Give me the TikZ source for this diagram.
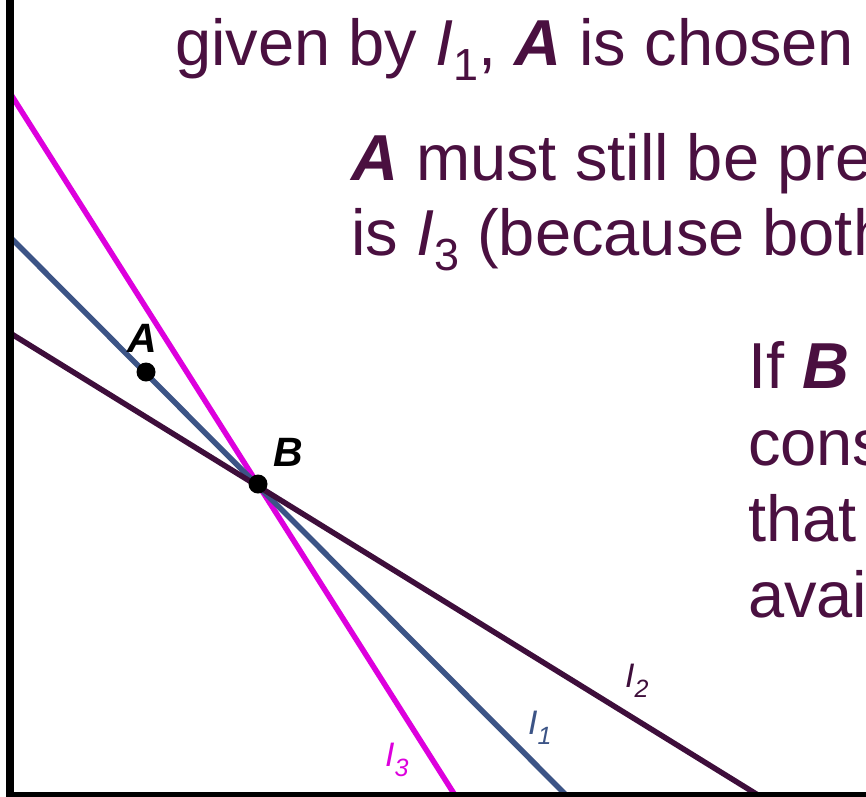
\documentclass[tikz,border=0pt]{standalone}
\usepackage{fontspec}
\setmainfont{Liberation Sans}
\definecolor{txtc}{HTML}{4A1040}
\definecolor{magc}{HTML}{DD00DD}
\definecolor{bluec}{HTML}{3C5486}
\definecolor{purc}{HTML}{3E0E3B}
\newcommand\msub[1]{\raisebox{-0.24em}{\fontsize{45}{45}\selectfont #1}}
\newcommand\lsub[1]{\raisebox{-0.3em}{\fontsize{25}{25}\selectfont\itshape #1}}
\tikzset{
  maintext/.style={anchor=base west, inner sep=0pt, text=txtc, font=\fontsize{65}{78}\selectfont},
  curve/.style={line width=5.5pt},
  axisline/.style={line width=8pt, black},
  dotpt/.style={circle, fill=black, inner sep=0pt, minimum size=19pt},
  ptlabel/.style={anchor=base west, inner sep=0pt, font=\fontsize{41}{41}\selectfont\bfseries\itshape},
  ilabel/.style={anchor=base west, inner sep=0pt, font=\fontsize{34}{34}\selectfont\itshape}
}
\begin{document}
\begin{tikzpicture}[x=1pt,y=-1pt]
\useasboundingbox (0,0) rectangle (866,796);
\clip (0,0) rectangle (866,796);
\fill[white] (0,0) rectangle (866,796);
% texts
\node[maintext] (t1) at (175,65) {given by \textit{I}\msub{1}, \textbf{\textit{A}} is chosen};
\node[maintext] (t2) at (351,180) {\textbf{\textit{A}} must still be preferred};
\node[maintext] (t3) at (351,255) {is \textit{I}\msub{3} (because both};
\node[maintext] (t4) at (748,388) {If \textbf{\textit{B}} is};
\node[maintext] (t5) at (748,465) {consistent};
\node[maintext] (t6) at (748,541) {that};
\node[maintext] (t7) at (748,617) {available};
% curves
\coordinate (i3s) at (10,93);
\coordinate (i3e) at (458,800);
\coordinate (i1s) at (10,237);
\coordinate (i1e) at (571,800);
\coordinate (i2s) at (10,333);
\coordinate (i2e) at (766,800);
\draw[curve, magc] (i3s) -- (i3e);
\draw[curve, bluec] (i1s) -- (i1e);
\draw[curve, purc] (i2s) -- (i2e);
% axes
\coordinate (ytop) at (10,-10);
\coordinate (orig) at (10,796);
\coordinate (xend) at (880,796);
\draw[axisline] (ytop) -- (orig) -- (xend);
% points
\node[dotpt] (A) at (146,372) {};
\node[dotpt] (B) at (258,484) {};
\node[ptlabel] (Alab) at (127,352) {A};
\node[ptlabel] (Blab) at (273,466) {B};
% curve labels
\node[ilabel, text=magc] (l3) at (385,766) {I\lsub{3}};
\node[ilabel, text=bluec] (l1) at (528,734) {I\lsub{1}};
\node[ilabel, text=purc] (l2) at (625,687) {I\lsub{2}};
\end{tikzpicture}
\end{document}
